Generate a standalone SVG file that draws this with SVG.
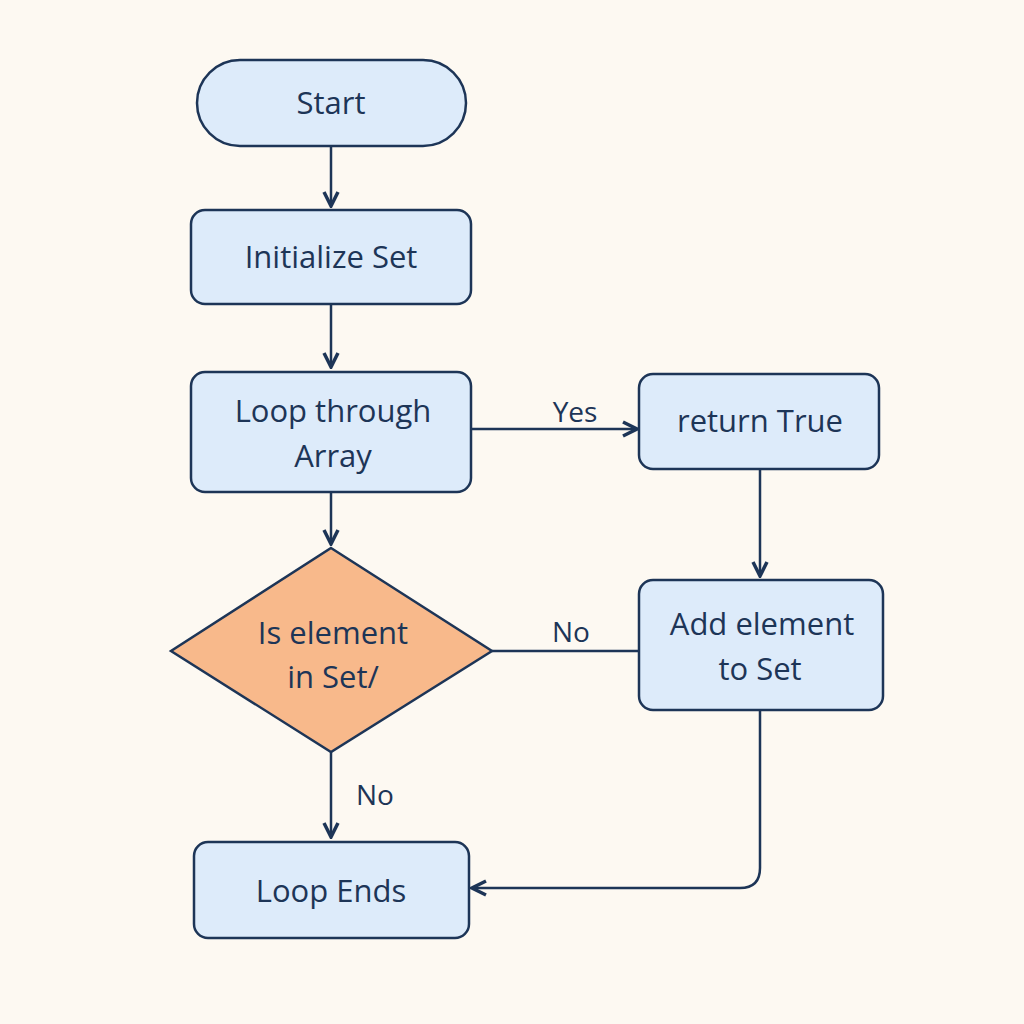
<svg xmlns="http://www.w3.org/2000/svg" width="1024" height="1024" viewBox="0 0 1024 1024">
<style>
.n{fill:#ddebfa;stroke:#1d3557;stroke-width:2.5}
.d{fill:#f8b98b;stroke:#1d3557;stroke-width:2.5}
.t{font-family:"Open Sans","Liberation Sans",sans-serif;font-size:31px;fill:#1d3557;text-anchor:middle}
.l{font-family:"Open Sans","Liberation Sans",sans-serif;font-size:28px;fill:#1d3557;text-anchor:middle}
.c{fill:none;stroke:#1d3557;stroke-width:2.5}
</style>
<defs><marker id="a" viewBox="0 0 10 10" refX="9" refY="5" markerWidth="7" markerHeight="7" orient="auto-start-reverse"><path d="M1,1 L9,5 L1,9" fill="none" stroke="#1d3557" stroke-width="2"/></marker></defs>
<rect width="1024" height="1024" fill="#fdf9f2"/>
<g id="connectors">
<path class="c" d="M331,146 V206" marker-end="url(#a)"/>
<path class="c" d="M331,304 V367" marker-end="url(#a)"/>
<path class="c" d="M471,429 H637" marker-end="url(#a)"/>
<path class="c" d="M760,469 V576" marker-end="url(#a)"/>
<path class="c" d="M331,492 V544" marker-end="url(#a)"/>
<path class="c" d="M492,651 H639"/>
<path class="c" d="M331,752 V837" marker-end="url(#a)"/>
<path class="c" d="M760,710 V868 Q760,888 740,888 H472" marker-end="url(#a)"/>
<text class="l" x="575" y="422">Yes</text>
<text class="l" x="571" y="642">No</text>
<text class="l" x="375" y="805">No</text>
</g>
<g id="start"><rect class="n" x="197" y="60" width="269" height="86" rx="43"/><text class="t" x="331" y="114">Start</text></g>
<g id="init"><rect class="n" x="191" y="210" width="280" height="94" rx="14"/><text class="t" x="331" y="268">Initialize Set</text></g>
<g id="loop"><rect class="n" x="191" y="372" width="280" height="120" rx="14"/><text class="t" x="333" y="422">Loop through</text><text class="t" x="333" y="467">Array</text></g>
<g id="ret"><rect class="n" x="639" y="374" width="240" height="95" rx="14"/><text class="t" x="760" y="432">return True</text></g>
<g id="add"><rect class="n" x="639" y="580" width="244" height="130" rx="14"/><text class="t" x="762" y="635">Add element</text><text class="t" x="760" y="680">to Set</text></g>
<g id="dec"><path class="d" d="M331,548 L492,651 L331,752 L171,651 Z"/><text class="t" x="333" y="644">Is element</text><text class="t" x="333" y="688">in Set/</text></g>
<g id="end"><rect class="n" x="194" y="842" width="275" height="96" rx="14"/><text class="t" x="331" y="902">Loop Ends</text></g>
</svg>
